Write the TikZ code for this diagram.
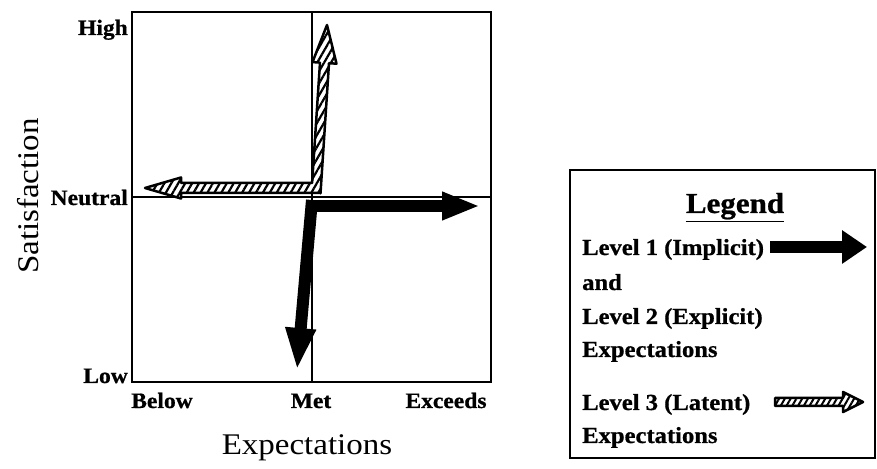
\documentclass[tikz,border=0pt]{standalone}
\usepackage{fontspec}
\setmainfont{Liberation Serif}
\newfontfamily\bfont[FakeStretch=1.07,FakeBold=0.8]{Liberation Serif}
\newfontfamily\rfont[FakeStretch=1.1]{Liberation Serif}
\usetikzlibrary{arrows.meta,patterns.meta}
\tikzset{
  frame/.style={line width=2pt},
  guide/.style={line width=1.5pt},
  solidarrow/.style={line width=12pt, -{Triangle[length=38pt,width=26pt]}},
  hatcharrow/.style={line width=2.5pt, line join=round, preaction={fill=white},
     pattern={Lines[angle=60,distance=6pt,line width=2.2pt]}},
  ticklab/.style={font=\bfont\bfseries\fontsize{22}{26}\selectfont, inner sep=0pt},
  leglab/.style={font=\bfont\bfseries\fontsize{23}{27}\selectfont, inner sep=0pt, anchor=base west},
  axtitle/.style={font=\rfont\fontsize{30}{34}\selectfont, inner sep=0pt, anchor=base},
}
\begin{document}
\begin{tikzpicture}[x=1pt,y=1pt]
\useasboundingbox (0,0) rectangle (877,468);
% plot frame
\draw[frame] (132,86) rectangle (491,456);
\draw[guide] (132,271) -- (491,271);
\draw[guide] (312,86) -- (312,456);
% axis labels
\node[ticklab, anchor=base east] (high) at (128,433) {High};
\node[ticklab, anchor=base east] (neutral) at (128,263) {Neutral};
\node[ticklab, anchor=base east] (low) at (128,85) {Low};
\node[ticklab, anchor=base] (below) at (162,60) {Below};
\node[ticklab, anchor=base] (met) at (311,60) {Met};
\node[ticklab, anchor=base] (exceeds) at (446,60) {Exceeds};
\node[axtitle] (xtitle) at (307,13) {Expectations};
\node[axtitle, rotate=90] (ytitle) at (38,272) {Satisfaction};
% solid arrows (levels 1 and 2)
\coordinate (oR) at (306,262);
\coordinate (tR) at (480,262);
\coordinate (oD) at (312,268);
\coordinate (tD) at (297,98);
\draw[solidarrow] (oR) -- (tR);
\draw[solidarrow, -{Triangle[length=42pt,width=28pt]}] (oD) -- (tD);
% hatched arrows (level 3)
\draw[hatcharrow] (320.5,275) -- (181,275) -- (181,269.5) -- (145,280) -- (181,290.5)
  -- (181,285) -- (312.1,285) -- (320.0,405.4) -- (312.5,405.9) -- (327,443)
  -- (336.5,404.3) -- (329.0,404.8) -- (320.5,274.7) -- cycle;
% legend
\draw[frame] (570,10) rectangle (875,298);
\node[font=\bfont\bfseries\fontsize{29}{33}\selectfont, inner sep=0pt, anchor=base] (legtitle) at (735,255) {\underline{Legend}};
\node[leglab] (l1) at (582,213) {Level 1 (Implicit)};
\node[leglab] (l2) at (582,178) {and};
\node[leglab] (l3) at (582,144) {Level 2 (Explicit)};
\node[leglab] (l4) at (582,111) {Expectations};
\node[leglab] (l5) at (582,58) {Level 3 (Latent)};
\node[leglab] (l6) at (582,25) {Expectations};
\coordinate (ls) at (770,221);
\coordinate (le) at (867,221);
\draw[line width=12pt, -{Triangle[length=25pt,width=32pt]}] (ls) -- (le);
\draw[hatcharrow, pattern={Lines[angle=60,distance=5pt,line width=2pt]}]
  (775,62) -- (843,62) -- (843,56) -- (863,66) -- (843,76) -- (843,70) -- (775,70) -- cycle;
\end{tikzpicture}
\end{document}
